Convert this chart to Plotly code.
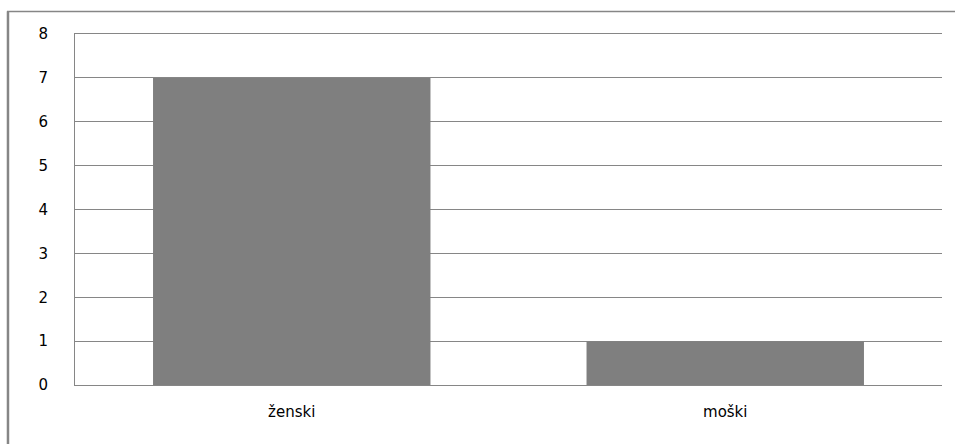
import plotly.graph_objects as go

categories = ["ženski", "moški"]
values = [7, 1]
y_ticks = [0, 1, 2, 3, 4, 5, 6, 7, 8]

grey_line = "#868686"
bar_color = "#7f7f7f"

fig = go.Figure(
    go.Bar(
        x=categories,
        y=values,
        marker=dict(color=bar_color, line=dict(width=0)),
    )
)

fig.update_layout(
    width=955,
    height=444,
    margin=dict(l=75, r=13, t=34, b=59),
    paper_bgcolor="white",
    plot_bgcolor="white",
    bargap=0.36,
    showlegend=False,
    font=dict(family="DejaVu Sans", size=15, color="#000000"),
    shapes=[
        # outer chart frame (left and top edges)
        dict(type="line", xref="paper", yref="paper",
             x0=-0.0773, x1=-0.0773, y0=-0.2, y1=1.064,
             line=dict(color=grey_line, width=2.5)),
        dict(type="line", xref="paper", yref="paper",
             x0=-0.0785, x1=1.05, y0=1.064, y1=1.064,
             line=dict(color=grey_line, width=1.5)),
    ],
)

fig.update_xaxes(
    showgrid=False,
    showline=True,
    mirror=True,
    linecolor=grey_line,
    linewidth=1,
    ticks="",
    ticklabelstandoff=13,
)

fig.update_yaxes(
    range=[0, 8],
    tickvals=y_ticks,
    showgrid=True,
    gridcolor=grey_line,
    gridwidth=1,
    showline=True,
    linecolor=grey_line,
    linewidth=1,
    zeroline=False,
    ticks="",
    ticklabelstandoff=23,
)

fig.write_html("out.html")
